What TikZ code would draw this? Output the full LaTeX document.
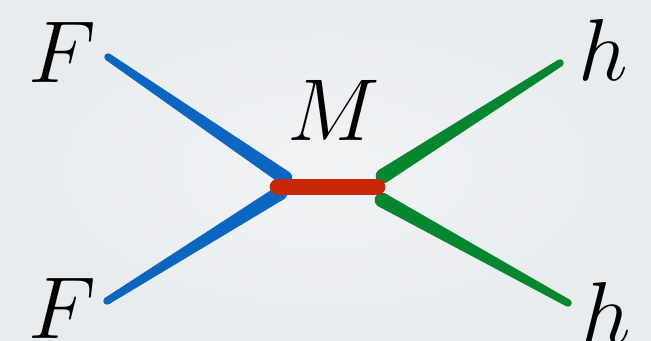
\documentclass[tikz,border=0pt]{standalone}
\usetikzlibrary{calc}

\definecolor{bgcol}{RGB}{233,236,239}
\definecolor{bgin}{RGB}{241,243,245}
\definecolor{fblue}{RGB}{10,102,192}
\definecolor{mred}{RGB}{200,38,8}
\definecolor{hgreen}{RGB}{6,134,46}

\tikzset{every picture/.style={line width=0.75pt}}
\tikzset{lbl/.style={font=\Huge, scale=2.65, inner sep=0pt}}

% tapered brush stroke from thin end #2 to thick end #3
\newcommand\brush[5]{%
  \fill[#1] ($(#2)!#4!90:(#3)$) -- ($(#3)!#5!-90:(#2)$) -- ($(#3)!#5!90:(#2)$) -- ($(#2)!#4!-90:(#3)$) -- cycle;
  \fill[#1] (#2) circle (#4);
  \fill[#1] (#3) circle (#5);
}

\begin{document}
\begin{tikzpicture}[x=0.75pt,y=0.75pt,yscale=-1,xscale=1]
%Background
\useasboundingbox (0,0) rectangle (651,340);
\shade[inner color=bgin, outer color=bgcol] (0,0) rectangle (651,340);

%Vertex points
\coordinate (va) at (285,178);
\coordinate (vb) at (280,193);
\coordinate (ml) at (278,187);
\coordinate (mr) at (377,187);
\coordinate (vc) at (383,176);
\coordinate (vd) at (382,200);
%Outer ends
\coordinate (ea) at (108,57);
\coordinate (eb) at (107,301);
\coordinate (ec) at (560,63);
\coordinate (ed) at (568,303);

%Blue legs
\brush{fblue}{ea}{va}{2.8pt}{5.5pt}
\brush{fblue}{eb}{vb}{2.8pt}{5.5pt}
%Green legs
\brush{hgreen}{ec}{vc}{2.8pt}{5.5pt}
\brush{hgreen}{ed}{vd}{2.8pt}{5.5pt}
%Red propagator
\draw [mred, line width=12.5pt, line cap=round] (ml) -- (mr) ;

% Text Node
\node[lbl] (fa) at (62,52) {$F$};
% Text Node
\node[lbl] (fb) at (62,308) {$F$};
% Text Node
\node[lbl] (m) at (334,110) {$M$};
% Text Node
\node[lbl] (ha) at (603,50) {$h$};
% Text Node
\node[lbl] (hb) at (606,313) {$h$};

\end{tikzpicture}
\end{document}
